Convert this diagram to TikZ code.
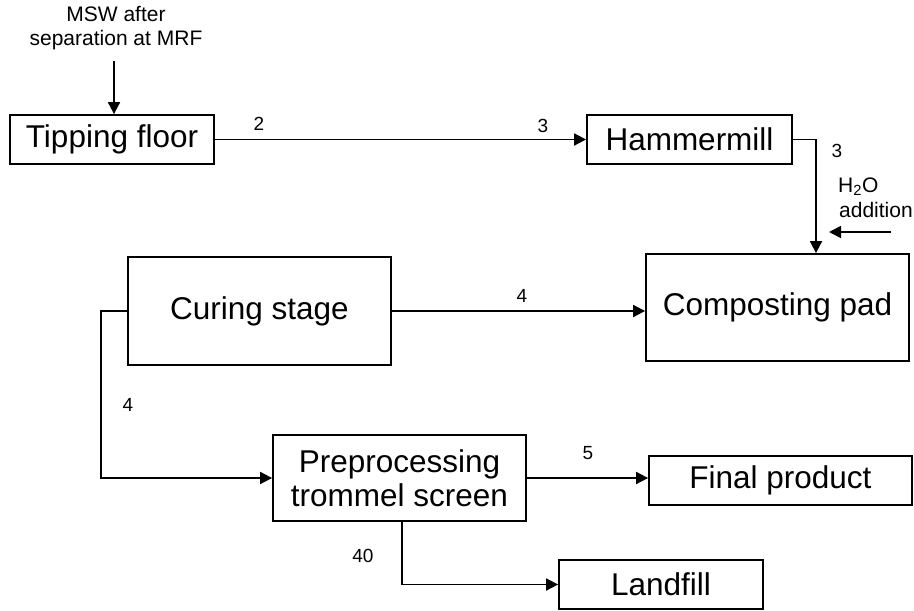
\documentclass[tikz,border=0pt]{standalone}
\usepackage{fontspec}
\setmainfont{Liberation Sans}
\usetikzlibrary{arrows.meta}
\begin{document}
\begin{tikzpicture}[x=1pt,y=-1pt,
  stage/.style={draw,line width=1.8pt,inner sep=0pt,align=center,
    font=\fontsize{31.5}{34}\selectfont},
  flow/.style={line width=1.8pt},
  arr/.style={flow,-{Triangle[length=12pt,width=12pt]}},
  num/.style={inner sep=0pt,font=\fontsize{19}{22}\selectfont},
  note/.style={inner sep=0pt,align=center,font=\fontsize{21}{24}\selectfont}]
\useasboundingbox (0,0) rectangle (914,611);

% process stages
\node[stage,minimum width=204pt,minimum height=49pt] (tip) at (112,139.5) {Tipping floor};
\node[stage,minimum width=205pt,minimum height=49pt] (ham) at (689.5,139.5) {Hammermill};
\node[stage,minimum width=263pt,minimum height=107pt] (comp) at (777.5,307.5) {Composting pad};
\node[stage,minimum width=263pt,minimum height=108pt] (cur) at (259.5,311) {Curing stage};
\node[stage,minimum width=253pt,minimum height=86pt] (pre) at (399.5,478) {Preprocessing\\trommel screen};
\node[stage,minimum width=263pt,minimum height=49pt] (fin) at (780.5,480.5) {Final product};
\node[stage,minimum width=204pt,minimum height=49pt] (land) at (661,584.5) {Landfill};

% inputs
\node[note] (msw) at (116,28) {MSW after\\separation at MRF};
\coordinate (mswout) at (114,61);
\draw[arr] (mswout) -- (mswout |- tip.north);

\node[note,anchor=west] (water) at (838,187) {H\textsubscript{2}O};
\node[note,anchor=west] (wateradd) at (839,210) {addition};
\coordinate (h2oin) at (891,232);
\coordinate (h2oend) at (829,232);
\draw[arr] (h2oin) -- (h2oend);

% flows between stages
\draw[arr] (tip.east) -- (ham.west);
\coordinate (hamturn) at (816,139.5);
\draw[arr] (ham.east) -- (hamturn) -- (hamturn |- comp.north);
\draw[arr] (cur.east) -- (cur.east -| comp.west);
\coordinate (curturn) at (101,311);
\draw[arr] (cur.west) -- (curturn) |- (pre.west);
\draw[arr] (pre.east) -- (pre.east -| fin.west);
\coordinate (preturn) at (402,521);
\draw[arr] (preturn) |- (land.west);

% stream numbers
\node[num] (n2) at (259,124) {2};
\node[num] (n3a) at (543,126) {3};
\node[num] (n3b) at (837,151) {3};
\node[num] (n4a) at (522,296) {4};
\node[num] (n4b) at (128,405) {4};
\node[num] (n5) at (588,453) {5};
\node[num] (n40) at (363,556) {40};
\end{tikzpicture}
\end{document}
